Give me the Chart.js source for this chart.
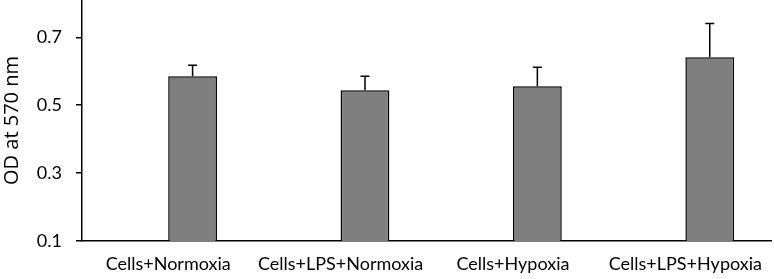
<!DOCTYPE html>
<html>
<head>
<meta charset="utf-8">
<script src="https://cdn.jsdelivr.net/npm/chart.js@4/dist/chart.umd.min.js"></script>
<style>
  html, body { margin: 0; padding: 0; background: #fff; }
  #wrap { width: 774px; height: 279px; }
</style>
</head>
<body>
<div id="wrap"><canvas id="odChart"></canvas></div>
<script>
const categories = ['Cells+Normoxia', 'Cells+LPS+Normoxia', 'Cells+Hypoxia', 'Cells+LPS+Hypoxia'];
const odValues = [0.585, 0.544, 0.556, 0.641];
const odErrors = [0.033, 0.041, 0.056, 0.100];
const yTicks = [0.1, 0.3, 0.5, 0.7];

const fontFamily = 'Lato, "Open Sans", sans-serif';

// upward-only error bars, drawn on the bar dataset
const errorBars = {
    id: 'errorBars',
    afterDatasetsDraw(chart) {
        const ctx = chart.ctx;
        const yScale = chart.scales.y;
        const meta = chart.getDatasetMeta(1);
        ctx.save();
        ctx.strokeStyle = '#000';
        ctx.lineWidth = 1.5;
        meta.data.forEach((bar, i) => {
            const top = yScale.getPixelForValue(odValues[i] + odErrors[i]);
            ctx.beginPath();
            ctx.moveTo(bar.x, bar.y);
            ctx.lineTo(bar.x, top);
            ctx.moveTo(bar.x - 4.5, top);
            ctx.lineTo(bar.x + 4.5, top);
            ctx.stroke();
        });
        ctx.restore();
    }
};

const odChartElem = document.getElementById('odChart').getContext('2d');

const odData = {
    labels: categories,
    datasets: [{
        // empty slot, the original chart has its bars shifted right of the labels
        label: '',
        data: categories.map(() => null),
    }, {
        label: 'OD',
        data: odValues,
        backgroundColor: '#7f7f7f',
        borderColor: '#000',
        borderWidth: 1.5,
    }],
};

const odConfig = {
    type: 'bar',
    data: odData,
    options: {
        responsive: true,
        maintainAspectRatio: false,
        animation: false,
        datasets: {
            bar: {
                barPercentage: 1.0,
                categoryPercentage: 0.566,
            }
        },
        layout: { padding: 0 },
        scales: {
            x: {
                afterFit(scale) {
                    scale.height = 38;
                },
                grid: { display: false, drawTicks: false },
                border: { display: true, color: '#000', width: 1.5 },
                ticks: {
                    color: '#000',
                    padding: 12,
                    maxRotation: 0,
                    autoSkip: false,
                    font: { family: fontFamily, size: 18 },
                },
            },
            y: {
                min: 0.1,
                max: 0.81,
                beginAtZero: false,
                afterBuildTicks(scale) {
                    scale.ticks = yTicks.map(v => ({ value: v }));
                },
                afterFit(scale) {
                    scale.width = 82;
                    scale.paddingTop = 0;
                    scale.paddingBottom = 0;
                },
                grid: {
                    drawOnChartArea: false,
                    drawTicks: true,
                    tickLength: 6,
                    color: '#000',
                    lineWidth: 1.5,
                },
                border: { display: true, color: '#000', width: 1.5 },
                ticks: {
                    color: '#000',
                    padding: 14,
                    font: { family: fontFamily, size: 18 },
                    callback: v => v.toFixed(1),
                },
                title: {
                    display: true,
                    text: 'OD at 570 nm',
                    color: '#000',
                    padding: { top: 0, bottom: 0 },
                    font: { family: '"Open Sans", sans-serif', size: 20 },
                },
            },
        },
        plugins: {
            legend: { display: false },
            tooltip: { enabled: false },
        },
    },
    plugins: [errorBars],
};

const odChart = new Chart(odChartElem, odConfig);
</script>
</body>
</html>
